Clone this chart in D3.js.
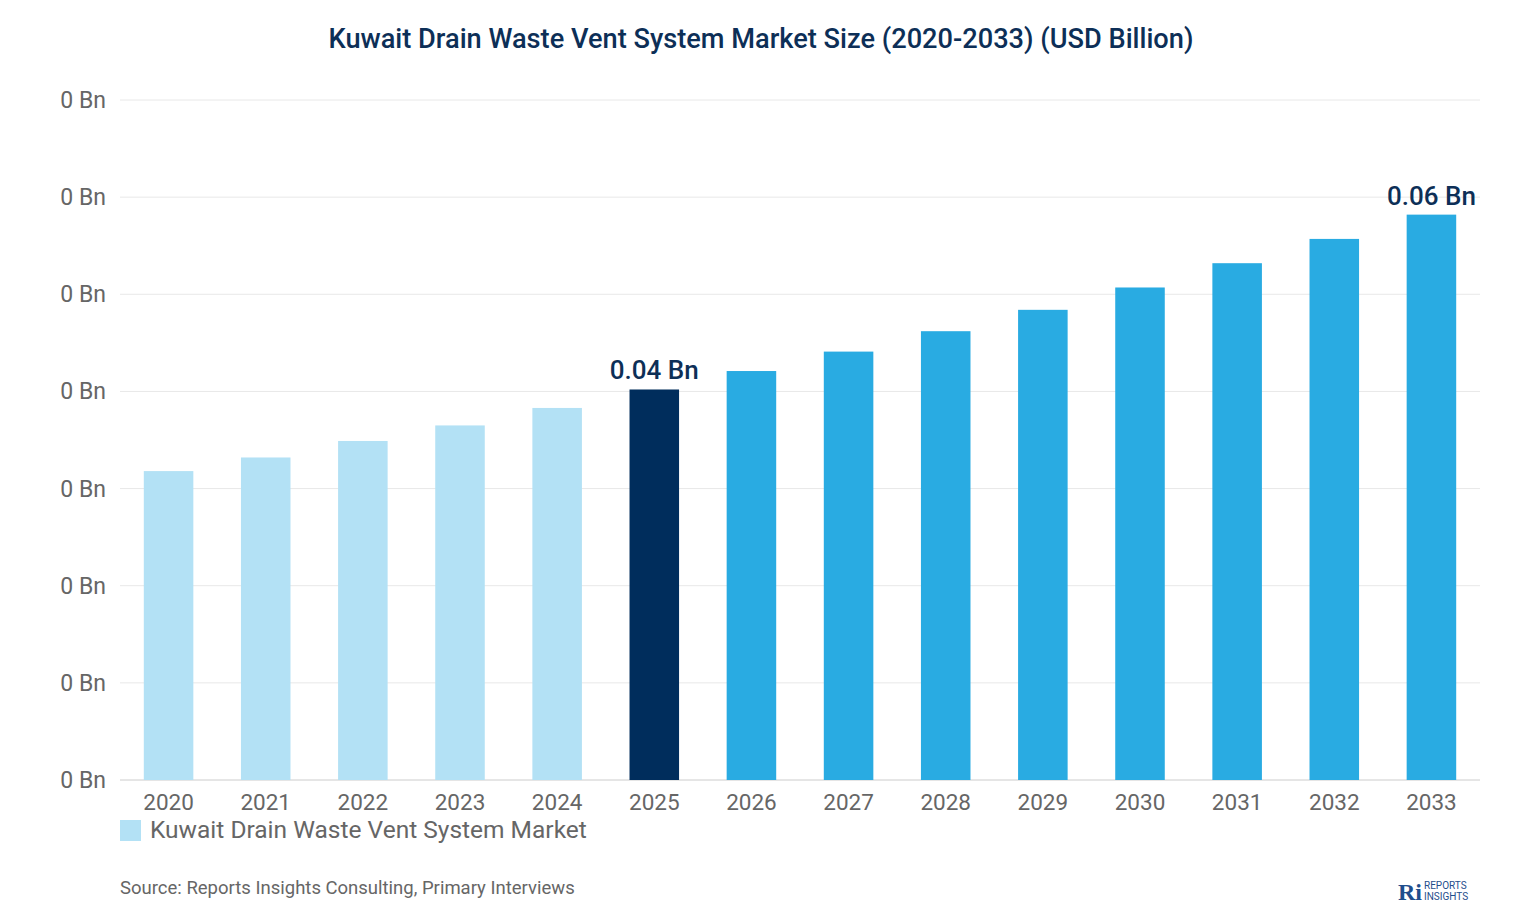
<!DOCTYPE html>
<html><head><meta charset="utf-8">
<script src="https://cdn.jsdelivr.net/npm/d3@7"></script>
<style>body{margin:0;background:#fff;font-family:Roboto,sans-serif}</style>
</head><body>
<script>
var years = ['2020','2021','2022','2023','2024','2025','2026','2027','2028','2029','2030','2031','2032','2033'];
var values = [0.0318,0.0332,0.0349,0.0365,0.0383,0.0402,0.0421,0.0441,0.0462,0.0484,0.0507,0.0532,0.0557,0.0582];
var tickValues = [0,0.01,0.02,0.03,0.04,0.05,0.06,0.07];
var labelled = {'2025':'0.04 Bn','2033':'0.06 Bn'};

var width = 1520, height = 920;
var plotLeft = 120, plotRight = 1480, plotTop = 100, plotBottom = 780;

var svg = d3.select('body').append('svg').attr('width', width).attr('height', height);

var x = d3.scaleBand().domain(years).range([plotLeft, plotRight]).paddingInner(0.49).paddingOuter(0.245);
var y = d3.scaleLinear().domain([0, 0.07]).range([plotBottom, plotTop]);

svg.append('text').attr('x', 761).attr('y', 48).attr('text-anchor', 'middle')
  .attr('font-size', 27.2).attr('font-weight', 500).attr('fill', '#0d2f57')
  .text('Kuwait Drain Waste Vent System Market Size (2020-2033) (USD Billion)');

svg.selectAll('line.grid').data(tickValues).enter().append('line')
  .attr('x1', plotLeft).attr('x2', plotRight)
  .attr('y1', function (d) { return y(d); }).attr('y2', function (d) { return y(d); })
  .attr('stroke', function (d) { return d === 0 ? '#ccc' : '#e8e8e8'; });

svg.selectAll('text.ytick').data(tickValues).enter().append('text')
  .attr('x', 106).attr('y', function (d) { return y(d) + 8; })
  .attr('text-anchor', 'end').attr('font-size', 23).attr('fill', '#666')
  .text(function (d) { return Math.round(d) + ' Bn'; });

svg.selectAll('rect.bar').data(years).enter().append('rect')
  .attr('x', function (d) { return x(d); })
  .attr('width', x.bandwidth())
  .attr('y', function (d, i) { return y(values[i]); })
  .attr('height', function (d, i) { return plotBottom - y(values[i]); })
  .attr('fill', function (d) { return +d < 2025 ? '#b3e1f5' : (d === '2025' ? '#002d5c' : '#29abe2'); });

svg.selectAll('text.xtick').data(years).enter().append('text')
  .attr('x', function (d) { return x(d) + x.bandwidth() / 2; })
  .attr('y', 810).attr('text-anchor', 'middle').attr('font-size', 22.5).attr('fill', '#666')
  .text(function (d) { return d; });

svg.selectAll('text.val').data(years.filter(function (d) { return labelled[d]; })).enter().append('text')
  .attr('x', function (d) { return x(d) + x.bandwidth() / 2; })
  .attr('y', function (d) { return y(values[years.indexOf(d)]) - 10; })
  .attr('text-anchor', 'middle').attr('font-size', 26).attr('font-weight', 500).attr('fill', '#0d2f57')
  .text(function (d) { return labelled[d]; });

svg.append('rect').attr('x', 120).attr('y', 820).attr('width', 21).attr('height', 21).attr('fill', '#b3e1f5');
svg.append('text').attr('x', 150).attr('y', 838).attr('font-size', 24.5).attr('fill', '#666')
  .text('Kuwait Drain Waste Vent System Market');

svg.append('text').attr('x', 120).attr('y', 894).attr('font-size', 18.5).attr('fill', '#666')
  .text('Source: Reports Insights Consulting, Primary Interviews');

svg.append('text').attr('x', 1398).attr('y', 900).attr('font-size', 24).attr('font-weight', 700)
  .attr('font-family', 'Liberation Serif').attr('fill', '#1f4e8c').text('Ri');
svg.append('text').attr('x', 1424).attr('y', 889).attr('font-size', 10).attr('fill', '#1f4e8c').text('REPORTS');
svg.append('text').attr('x', 1424).attr('y', 900).attr('font-size', 10).attr('fill', '#1f4e8c').text('INSIGHTS');
</script>
</body></html>
